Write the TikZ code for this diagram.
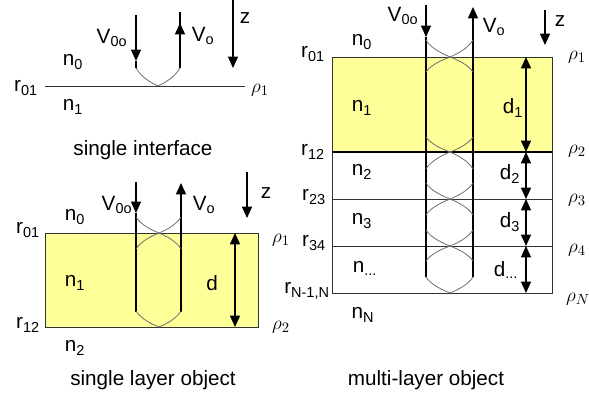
\documentclass[tikz,border=0pt]{standalone}
\usepackage{fontspec}
\setmainfont{Liberation Sans}
\usetikzlibrary{arrows.meta}
\definecolor{film}{HTML}{FFFF99}
\definecolor{raygray}{HTML}{6E6E6E}
\tikzset{
    beam/.style={line width=0.9pt},
    ray/.style={draw=raygray, line width=0.6pt},
    tip/.style={-{Triangle[width=7.5pt,length=8.5pt]}},
    dim/.style={{Triangle[width=7.5pt,length=8.5pt]}-{Triangle[width=7.5pt,length=8.5pt]}, line width=0.9pt},
    iface/.style={draw=black!80, line width=0.75pt},
}
\begin{document}
\begin{tikzpicture}[x=0.75pt,y=-0.75pt,font=\fontsize{15.5}{18}\selectfont,
    every node/.style={inner sep=0pt}]
    \useasboundingbox (0,0) rectangle (589,400);

    % single interface
    \draw[iface] (45,86) -- (245,86);
    \coordinate (a-in) at (136,15);  \coordinate (a-hit) at (136,61);  \coordinate (a-bend) at (136,68);
    \coordinate (a-turn) at (180,68); \coordinate (a-up) at (180,23);  \coordinate (a-out) at (180,12);
    \coordinate (a-z0) at (233,0);    \coordinate (a-z1) at (233,68);
    \draw[beam,tip] (a-in) -- (a-hit);
    \draw[beam] (a-hit) -- (a-bend);
    \draw[beam] (a-turn) -- (a-out);
    \draw[beam,tip] (a-turn) -- (a-up);
    \draw[beam,tip] (a-z0) -- (a-z1);
    \node (a-r01) at (26,88) {r\textsubscript{01}};
    \node (a-rho1) at (260,90) {$\rho_1$};
    \node (a-n0) at (73,62) {n\textsubscript{0}};
    \node (a-n1) at (73,107) {n\textsubscript{1}};
    \node (a-vin) at (112,38) {V\textsubscript{0o}};
    \node (a-vout) at (203,36) {V\textsubscript{o}};
    \node (a-z) at (245,18) {z};
    \node (a-cap) at (143,150) {single interface};

    % single layer object
    \fill[film] (45,233) rectangle (258,327);
    \draw[iface] (45,233) rectangle (258,327);
    \coordinate (b-in) at (136,182);  \coordinate (b-hit) at (136,213); \coordinate (b-low) at (136,312);
    \coordinate (b-turn) at (181,312); \coordinate (b-up) at (181,183);
    \coordinate (b-z0) at (247,172);   \coordinate (b-z1) at (247,218);
    \coordinate (b-d0) at (235,233);   \coordinate (b-d1) at (235,327);
    \draw[beam,tip] (b-in) -- (b-hit);
    \draw[beam] (b-hit) -- (b-low);
    \draw[beam,tip] (b-turn) -- (b-up);
    \draw[beam,tip] (b-z0) -- (b-z1);
    \draw[dim] (b-d0) -- (b-d1);
    \node (b-r01) at (28,230) {r\textsubscript{01}};
    \node (b-r12) at (28,325) {r\textsubscript{12}};
    \node (b-rho1) at (281,240) {$\rho_1$};
    \node (b-rho2) at (281,327) {$\rho_2$};
    \node (b-n0) at (75,217) {n\textsubscript{0}};
    \node (b-n1) at (75,283) {n\textsubscript{1}};
    \node (b-n2) at (75,348) {n\textsubscript{2}};
    \node (b-vin) at (117,205) {V\textsubscript{0o}};
    \node (b-vout) at (204,205) {V\textsubscript{o}};
    \node (b-z) at (266,193) {z};
    \node (b-d) at (212,283) {d};
    \node (b-cap) at (153,380) {single layer object};

    % multi-layer object
    \fill[film] (332,57) rectangle (552,152);
    \draw[iface] (332,57) rectangle (552,293);
    \foreach \y in {199,246}
        \draw[iface] (332,\y) -- (552,\y);
    \draw[line width=1.5pt] (332,152) -- (552,152);
    \coordinate (c-in) at (426,5);    \coordinate (c-hit) at (426,37);  \coordinate (c-low) at (426,277);
    \coordinate (c-turn) at (473,277); \coordinate (c-up) at (473,7);
    \coordinate (c-z0) at (545,10);    \coordinate (c-z1) at (545,45);
    \draw[beam,tip] (c-in) -- (c-hit);
    \draw[beam] (c-hit) -- (c-low);
    \draw[beam,tip] (c-turn) -- (c-up);
    \draw[beam,tip] (c-z0) -- (c-z1);
    \foreach \i/\ya/\yb in {1/57/152,2/152/199,3/199/246,4/246/293}
    {
        \coordinate (c-d\i a) at (526,\ya);
        \coordinate (c-d\i b) at (526,\yb);
        \draw[dim] (c-d\i a) -- (c-d\i b);
    }
    \node (c-r01) at (313,54) {r\textsubscript{01}};
    \node (c-r12) at (313,152) {r\textsubscript{12}};
    \node (c-r23) at (314,197) {r\textsubscript{23}};
    \node (c-r34) at (314,243) {r\textsubscript{34}};
    \node (c-rN) at (307,291) {r\textsubscript{N-1,N}};
    \node (c-rho1) at (577,57) {$\rho_1$};
    \node (c-rho2) at (577,151) {$\rho_2$};
    \node (c-rho3) at (577,200) {$\rho_3$};
    \node (c-rho4) at (577,250) {$\rho_4$};
    \node (c-rhoN) at (578,299) {$\rho_N$};
    \node (c-n0) at (362,42) {n\textsubscript{0}};
    \node (c-n1) at (362,108) {n\textsubscript{1}};
    \node (c-n2) at (362,172) {n\textsubscript{2}};
    \node (c-n3) at (362,221) {n\textsubscript{3}};
    \node (c-nx) at (365,268) {n\textsubscript{...}};
    \node (c-nN) at (363,315) {n\textsubscript{N}};
    \node (c-d1) at (513,108) {d\textsubscript{1}};
    \node (c-d2) at (510,174) {d\textsubscript{2}};
    \node (c-d3) at (510,222) {d\textsubscript{3}};
    \node (c-dx) at (506,270) {d\textsubscript{...}};
    \node (c-vin) at (403,16) {V\textsubscript{0o}};
    \node (c-vout) at (494,27) {V\textsubscript{o}};
    \node (c-z) at (560,21) {z};
    \node (c-cap) at (426,380) {multi-layer object};

    % reflections at the interfaces
    \foreach \xl/\xm/\xr/\y/\h in {136/158/180/86/-18,
        136/159/181/233/-16, 136/159/181/233/16, 136/159/181/327/-16,
        426/450/473/57/-17, 426/450/473/57/15, 426/450/473/152/-15, 426/450/473/152/17,
        426/450/473/199/-16, 426/450/473/199/16, 426/450/473/246/-16, 426/450/473/246/15,
        426/450/473/293/-16}
        \draw[ray] ({\xl},{\y+\h}) .. controls ({\xl+5},{\y+0.5*\h}) and ({\xm-7},{\y+0.18*\h}) .. ({\xm},{\y})
            .. controls ({\xm+7},{\y+0.18*\h}) and ({\xr-5},{\y+0.5*\h}) .. ({\xr},{\y+\h});
\end{tikzpicture}
\end{document}
